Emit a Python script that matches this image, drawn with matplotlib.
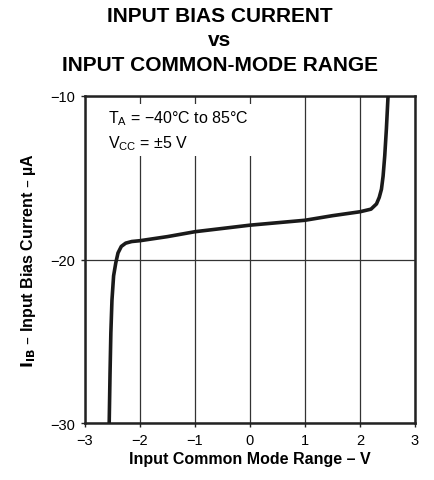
import matplotlib
matplotlib.use("Agg")
import matplotlib.pyplot as plt

plt.rcParams['font.family'] = ['Liberation Sans', 'DejaVu Sans']

vicr = [-2.56, -2.545, -2.53, -2.51, -2.48, -2.44, -2.40, -2.34, -2.26, -2.15, -2.0, -1.5, -1.0,
        -0.5, 0.0, 0.5, 1.0, 1.5, 2.0, 2.2, 2.30, 2.35, 2.39, 2.42, 2.45, 2.48, 2.51]
iib = [-30.0, -27.0, -24.5, -22.5, -21.0, -20.2, -19.6, -19.2, -19.0, -18.9, -18.85, -18.6, -18.3,
       -18.1, -17.9, -17.75, -17.6, -17.32, -17.08, -16.92, -16.6, -16.2, -15.7, -14.9, -13.65, -12.0, -10.0]

xticks = [-3, -2, -1, 0, 1, 2, 3]
yticks = [-30, -20, -10]
xticklabels = ['\u22123', '\u22122', '\u22121', '0', '1', '2', '3']
yticklabels = ['\u221230', '\u221220', '\u221210']

fig = plt.figure(figsize=(4.34, 4.81), dpi=100)
ax = fig.add_axes([85/434, 1-424/481, 330/434, 327/481])

ax.plot(vicr, iib, color='#1a1a1a', lw=2.6, solid_capstyle='butt', zorder=3)
ax.set_xlim(-3, 3)
ax.set_ylim(-30, -10)
ax.set_xticks(xticks)
ax.set_yticks(yticks)
ax.set_xticklabels(xticklabels)
ax.set_yticklabels(yticklabels)
ax.tick_params(labelsize=10.5, length=3, width=1, color='#222', pad=4)
ax.grid(True, color='#333', lw=0.9, zorder=1)
for s in ax.spines.values():
    s.set_linewidth(1.8)
    s.set_color('#222')

ax.set_xlabel('Input Common Mode Range \u2013 V', fontsize=11.5, fontweight='bold', labelpad=3)
ax.set_ylabel('$\\mathbf{I_{IB}}$ \u2013 Input Bias Current \u2013 \u00b5A', fontsize=11.5,
              fontweight='bold', labelpad=9)

ann = ('T$_\\mathregular{A}$ = \u221240\u00b0C to 85\u00b0C' + '\n' +
       'V$_\\mathregular{CC}$ = \u00b15 V')
ax.text(-2.58, -10.75, ann, fontsize=11.5, va='top', ha='left',
        linespacing=1.45, bbox=dict(facecolor='white', edgecolor='none', pad=3), zorder=2)

fig.text(0.507, 0.965, 'INPUT BIAS CURRENT', ha='center', va='center', fontsize=15, fontweight='bold')
fig.text(0.507, 0.915, 'vs', ha='center', va='center', fontsize=15, fontweight='bold')
fig.text(0.507, 0.863, 'INPUT COMMON-MODE RANGE', ha='center', va='center', fontsize=15, fontweight='bold')

fig.savefig('out.png', dpi=100)
